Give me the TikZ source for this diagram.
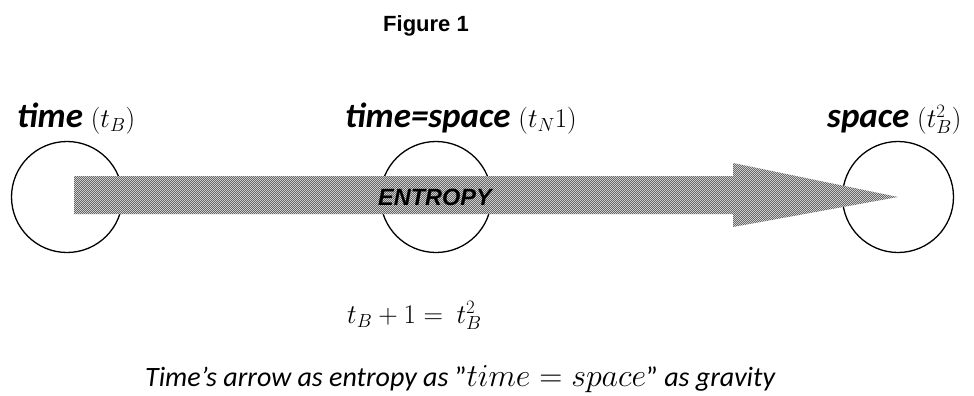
\RequirePackage{fix-cm}
\documentclass[tikz,border=0pt]{standalone}
\usepackage[no-math]{fontspec}
\setmainfont{Carlito}
\newfontfamily\arialfont{Liberation Sans}
\usetikzlibrary{patterns}
% fine grain for the entropy arrow
\pgfdeclarepatternformonly{finechecker}{\pgfpointorigin}{\pgfqpoint{2.4pt}{2.4pt}}{\pgfqpoint{2.4pt}{2.4pt}}{%
  \pgfpathrectangle{\pgfpointorigin}{\pgfqpoint{1.2pt}{1.2pt}}%
  \pgfpathrectangle{\pgfqpoint{1.2pt}{1.2pt}}{\pgfqpoint{1.2pt}{1.2pt}}%
  \pgfusepath{fill}}
\begin{document}
\begin{tikzpicture}[x=1pt, y=-1pt,
  ring/.style={circle, draw, line width=1.3pt, minimum size=111pt, inner sep=0pt},
  lab/.style={anchor=base west, inner sep=0pt, font=\fontsize{35}{40}\selectfont}]
\useasboundingbox (0,0) rectangle (974,396);
% title
\node[anchor=base, inner sep=0pt, font=\arialfont\bfseries\fontsize{22}{26}\selectfont] (fig) at (426,32) {Figure 1};
% states
\node[ring] (tB) at (67,197) {};
\node[ring] (tN) at (436,197) {};
\node[ring] (tS) at (898,197) {};
\node[lab] (labB) at (17,127) {\textbf{\textit{time}} {\fontsize{27}{30}\selectfont$(t_B)$}};
\node[lab] (labN) at (345,127) {\textbf{\textit{time=space}} {\fontsize{27}{30}\selectfont$(t_N1)$}};
\node[lab] (labS) at (827,127) {\textbf{\textit{space}} {\fontsize{27}{30}\selectfont$(t_B^2)$}};
% entropy arrow
\fill[gray!25, postaction={pattern=finechecker, pattern color=black!60}]
  (74,176) -- (733,176) -- (733,163) -- (tS.center) -- (733,227) -- (733,214) -- (74,214) -- cycle;
\node[anchor=base west, inner sep=0pt, font=\arialfont\bfseries\itshape\fontsize{23.5}{28}\selectfont] (ent) at (378,205) {ENTROPY};
% relation
\node[anchor=base west, inner sep=0pt, font=\fontsize{27}{32}\selectfont] (eq) at (347,323) {$t_B+1=\ t_B^2$};
\node[anchor=base west, inner sep=0pt, font=\itshape\fontsize{28}{33}\selectfont] (cap) at (145,386)
  {Time’s arrow as entropy as {\upshape\char34}{\fontsize{32}{36}\selectfont$time=space$}{\upshape\char34} as gravity};
\end{tikzpicture}
\end{document}
